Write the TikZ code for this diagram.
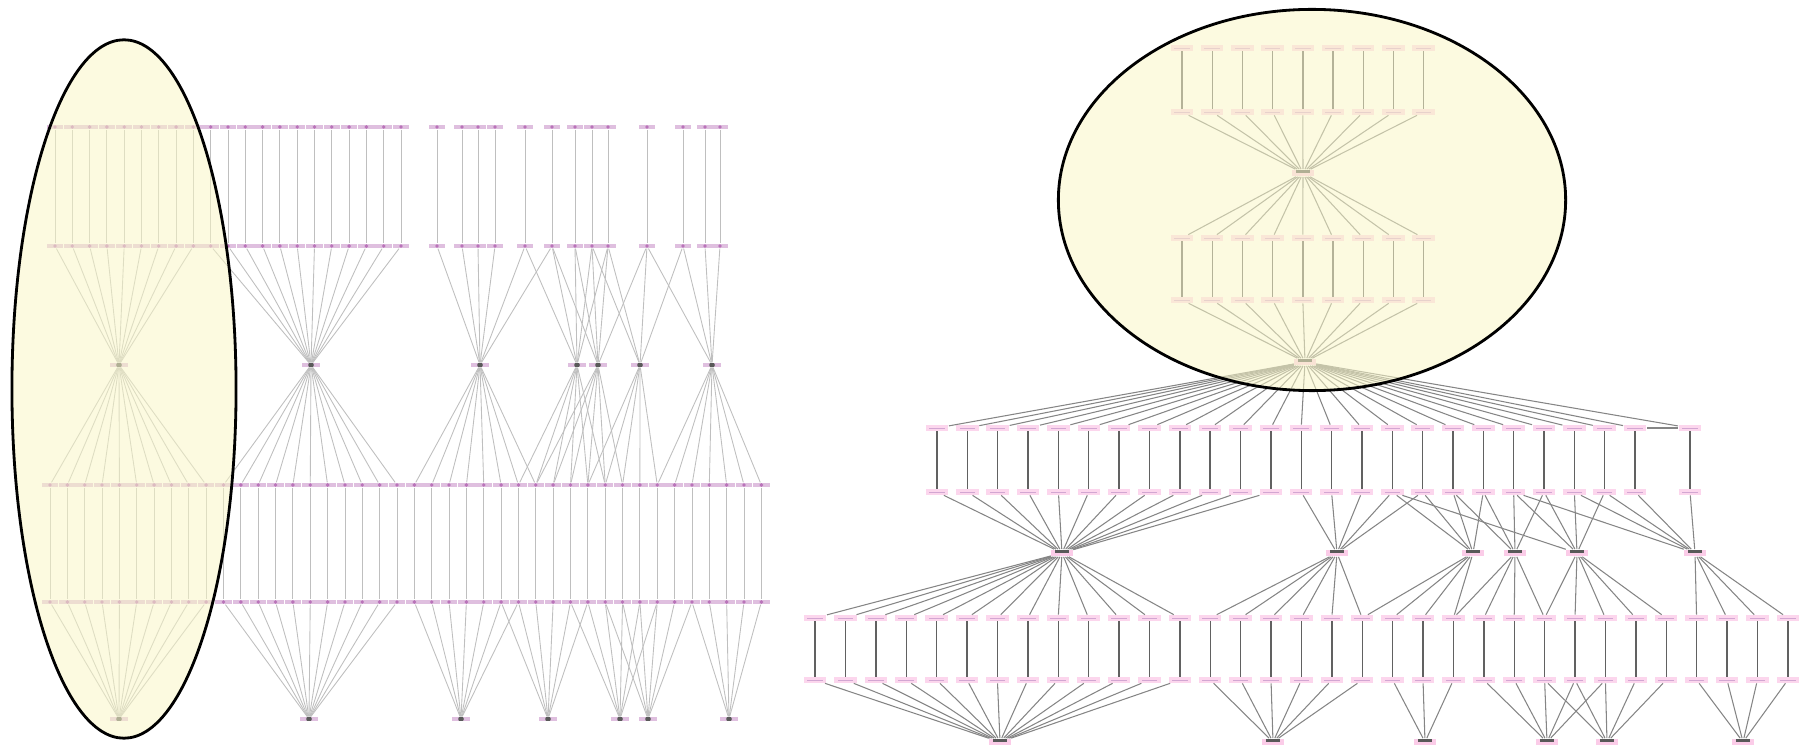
\documentclass[tikz,border=0pt]{standalone}
\usepackage{tikz}
\usetikzlibrary{shapes.geometric}

\definecolor{cream}{RGB}{249,246,198}

\begin{document}
\begin{tikzpicture}[x=0.01cm, y=-0.01cm,
  lnode/.style = {rectangle, fill=violet!25, inner sep=0pt, minimum width=4.7pt, minimum height=1.1pt,
    path picture={\fill[violet!55] (path picture bounding box.center) circle (0.55pt);}},
  lhub/.style = {rectangle, fill=violet!25, inner sep=0pt, minimum width=5pt, minimum height=1.1pt,
    path picture={\fill[black!65] (path picture bounding box.center) circle (0.8pt);}},
  rnode/.style = {rectangle, fill=magenta!16, inner sep=0pt, minimum width=6.4pt, minimum height=1.5pt,
    path picture={\fill[violet!35] ([xshift=1pt]path picture bounding box.west) rectangle ([xshift=-1pt, yshift=0.4pt]path picture bounding box.south east);}},
  rhub/.style = {rectangle, fill=magenta!20, inner sep=0pt, minimum width=6pt, minimum height=1.8pt,
    path picture={\fill[black!65] ([xshift=1pt]path picture bounding box.west) rectangle ([xshift=-1pt]path picture bounding box.north east);}},
  ledge/.style = {draw=black!25, line width=0.25pt},
  redge/.style = {draw=black!48, line width=0.3pt},
  rvert/.style = {draw=black!62, line width=0.4pt},
  group/.style = {ellipse, draw=black, line width=0.8pt, fill=cream, fill opacity=0.55, inner sep=0pt}
]
\useasboundingbox (0,0) rectangle (1809,752);

% Left graph
\foreach \k in {0,...,20} {
  \node[lnode] (la\k) at ({55+17.3*\k},127) {};
  \node[lnode] (lb\k) at ({55+17.3*\k},246) {};
}
\foreach \x [count=\k from 21] in {437,462,478,495,525,552,575,592,608,647,683,705,720} {
  \node[lnode] (la\k) at (\x,127) {};
  \node[lnode] (lb\k) at (\x,246) {};
}
\foreach \x [count=\i] in {119,311,480,577,598,640,712}
  \node[lhub] (lh\i) at (\x,365) {};
\foreach \k in {0,...,41} {
  \node[lnode] (lc\k) at ({50+17.35*\k},485) {};
  \node[lnode] (ld\k) at ({50+17.35*\k},602) {};
}
\foreach \x [count=\i] in {119,309,461,548,620,648,729}
  \node[lhub] (lg\i) at (\x,719) {};

\foreach \k in {0,...,33}
  \draw[ledge] (la\k) -- (lb\k);
\foreach \hb/\lo/\hi in {1/0/8, 2/9/20, 3/21/26, 4/25/29, 5/26/30, 6/28/31, 7/30/33}
  \foreach \k in {\lo,...,\hi}
    \draw[ledge] (lb\k) -- (lh\hb);
\foreach \hb/\lo/\hi in {1/0/9, 2/10/20, 3/21/28, 4/27/32, 5/28/33, 6/31/35, 7/35/41}
  \foreach \k in {\lo,...,\hi}
    \draw[ledge] (lh\hb) -- (lc\k);
\foreach \k in {0,...,41}
  \draw[ledge] (lc\k) -- (ld\k);
\foreach \hb/\lo/\hi in {1/0/9, 2/10/20, 3/21/27, 4/26/31, 5/30/35, 6/32/37, 7/37/41}
  \foreach \k in {\lo,...,\hi}
    \draw[ledge] (ld\k) -- (lg\hb);

% Right graph, upper part
\foreach \k in {0,...,8} {
  \node[rnode] (ra\k) at ({1182+30.2*\k},48) {};
  \node[rnode] (rb\k) at ({1182+30.2*\k},112) {};
  \node[rnode] (rc\k) at ({1182+30.2*\k},238) {};
  \node[rnode] (rd\k) at ({1182+30.2*\k},300) {};
}
\node[rhub] (rh1) at (1303,173) {};
\node[rhub] (rh2) at (1305,362) {};

\foreach \k in {0,...,8} {
  \draw[rvert] (ra\k) -- (rb\k);
  \draw[redge] (rb\k) -- (rh1);
  \draw[redge] (rh1) -- (rc\k);
  \draw[rvert] (rc\k) -- (rd\k);
  \draw[redge] (rd\k) -- (rh2);
}

% Right graph, lower part
\foreach \k in {0,...,23} {
  \node[rnode] (re\k) at ({937+30.35*\k},428) {};
  \node[rnode] (rf\k) at ({937+30.35*\k},492) {};
}
\node[rnode] (re24) at (1690,428) {};
\node[rnode] (rf24) at (1690,492) {};
\foreach \x [count=\i] in {1062,1337,1473,1515,1577,1695}
  \node[rhub] (rg\i) at (\x,553) {};
\foreach \k in {0,...,32} {
  \node[rnode] (ri\k) at ({815+30.4*\k},618) {};
  \node[rnode] (rj\k) at ({815+30.4*\k},680) {};
}
\foreach \x [count=\i] in {1000,1273,1425,1547,1607,1743}
  \node[rhub] (rm\i) at (\x,742) {};

\foreach \k in {0,...,24} {
  \draw[redge] (rh2) -- (re\k);
  \draw[rvert] (re\k) -- (rf\k);
}
\draw[redge] (re23) -- (re24);
\foreach \hb/\lo/\hi in {1/0/11, 2/12/16, 3/15/18, 4/17/20, 5/19/22, 6/21/24}
  \foreach \k in {\lo,...,\hi}
    \draw[redge] (rf\k) -- (rg\hb);
\draw[redge] (rf15) -- (rg5);
\draw[redge] (rf19) -- (rg6);
\foreach \hb/\lo/\hi in {1/0/12, 2/13/18, 3/18/21, 4/21/24, 5/24/28, 6/29/32}
  \foreach \k in {\lo,...,\hi}
    \draw[redge] (rg\hb) -- (ri\k);
\foreach \k in {0,...,32}
  \draw[rvert] (ri\k) -- (rj\k);
\foreach \hb/\lo/\hi in {1/0/12, 2/13/18, 3/19/21, 4/22/26, 5/24/28, 6/29/32}
  \foreach \k in {\lo,...,\hi}
    \draw[redge] (rj\k) -- (rm\hb);

% Highlighted groups
\node[group, minimum width=2.24cm, minimum height=6.98cm] (leftgroup) at (124,389) {};
\node[group, minimum width=5.07cm, minimum height=3.81cm] (rightgroup) at (1312,200) {};
\end{tikzpicture}
\end{document}
